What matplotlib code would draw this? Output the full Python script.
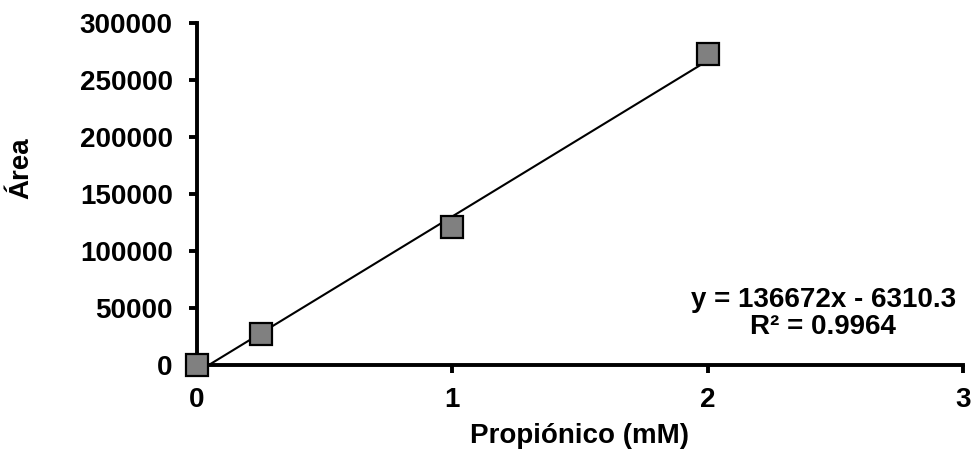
import numpy as np
import matplotlib
matplotlib.use("Agg")
import matplotlib.pyplot as plt

plt.rcParams['font.family'] = ['Liberation Sans', 'DejaVu Sans']
plt.rcParams['font.weight'] = 'bold'

# datos
conc = [0, 0.25, 1, 2]
area = [0, 27600, 121000, 273000]
pendiente = 136672
intercepto = -6310.3
r2 = 0.9964

fig = plt.figure(figsize=(9.77, 4.61), dpi=100)
ax = fig.add_axes([0.2016, 0.2082, 0.7841, 0.7418])

# linea de tendencia desde y=0 hasta el ultimo punto
x0 = -intercepto / pendiente
xl = np.array([x0, conc[-1]])
ax.plot(xl, pendiente * xl + intercepto, color='black', lw=1.5, zorder=3)

ax.plot(conc, area, linestyle='none', marker='s', ms=15.5, mfc='#808080',
        mec='black', mew=1.6, clip_on=False, zorder=4)

ax.set_xlim(0, 3)
ax.set_ylim(0, 300000)
ax.set_xticks([0, 1, 2, 3])
ax.set_yticks(np.arange(0, 300001, 50000))
ax.set_yticklabels([str(v) for v in range(0, 300001, 50000)])

for s in ['top', 'right']:
    ax.spines[s].set_visible(False)
for s in ['left', 'bottom']:
    ax.spines[s].set_linewidth(2.8)

ax.tick_params(axis='both', direction='out', length=5.5, width=2.8,
               labelsize=20)
ax.tick_params(axis='y', pad=12)
ax.tick_params(axis='x', pad=10.5)

ax.set_xlabel('Propiónico (mM)', fontsize=20, fontweight='bold')
ax.xaxis.set_label_coords(0.5, -0.17)
ax.set_ylabel('Área', fontsize=20, fontweight='bold')
ax.yaxis.set_label_coords(-0.212, 0.576)

ax.text(2.452, 45500, 'y = %dx - %.1f\nR² = %.4f' % (pendiente, -intercepto, r2),
        ha='center', va='center', fontsize=20, fontweight='bold',
        linespacing=1.05)

fig.savefig('out.png', dpi=100)
